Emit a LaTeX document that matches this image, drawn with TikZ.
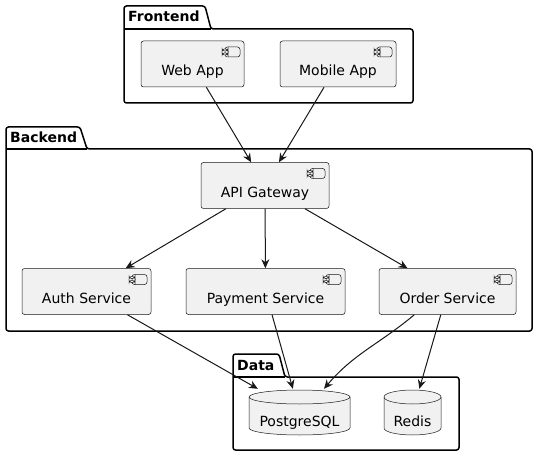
\documentclass[tikz,border=0pt]{standalone}
\usepackage{fontspec}
\setmainfont{DejaVu Sans}
\usepackage{xcolor}
\usetikzlibrary{arrows.meta,positioning}

\definecolor{boxfill}{HTML}{F1F1F1}
\definecolor{boxline}{HTML}{181818}

\begin{document}
\begin{tikzpicture}[
  x=1pt, y=1pt,
  comp/.style={draw=boxline, fill=boxfill, line width=0.5pt, rounded corners=2.5pt,
    minimum height=46pt, text height=23pt, text depth=0pt, font=\fontsize{14}{16}\selectfont,
    path picture={
      % little component icon in the top right corner
      \draw[boxline, line width=0.5pt, fill=boxfill]
        ([shift={(-19pt,-6pt)}]path picture bounding box.north east) rectangle ++(15pt,-10pt);
      \draw[boxline, line width=0.5pt, fill=boxfill]
        ([shift={(-22pt,-8pt)}]path picture bounding box.north east) rectangle ++(6pt,-2pt);
      \draw[boxline, line width=0.5pt, fill=boxfill]
        ([shift={(-22pt,-12pt)}]path picture bounding box.north east) rectangle ++(6pt,-2pt);
    }},
  % database: cylinder drawn inside a plain box, #1 = cylinder width
  db/.style={minimum width=#1+2pt, minimum height=47pt, text height=27pt, text depth=0pt,
    font=\fontsize{14}{16}\selectfont,
    path picture={
      \draw[boxline, line width=0.5pt, fill=boxfill]
        ([shift={(-0.5*#1,-8pt)}]path picture bounding box.north)
        -- ([shift={(-0.5*#1,8pt)}]path picture bounding box.south)
        arc[start angle=180, end angle=360, x radius=0.5*#1, y radius=7pt]
        -- ([shift={(0.5*#1,-8pt)}]path picture bounding box.north)
        arc[start angle=0, end angle=180, x radius=0.5*#1, y radius=7pt] -- cycle;
      \draw[boxline, line width=0.5pt]
        ([shift={(-0.5*#1,-8pt)}]path picture bounding box.north)
        arc[start angle=180, end angle=360, x radius=0.5*#1, y radius=7pt];
    }},
  pkg/.style={draw=black, line width=1.5pt, rounded corners=2.5pt, fill=white},
  pkgtitle/.style={anchor=base west, font=\bfseries\fontsize{14}{16}\selectfont, inner sep=0pt},
  flow/.style={-{Stealth[length=9pt, width=8pt, inset=3pt]}, line width=1pt, draw=boxline},
]
\useasboundingbox (0,0) rectangle (546,-465);

% Frontend package
\draw[pkg] (124,-103) -- (124,-6) -- (205,-6) -- (211,-29) -- (413,-29) -- (413,-103) -- cycle;
\draw[line width=1.5pt] (124,-29) -- (211,-29);
\node[pkgtitle] (fronttitle) at (128,-22) {Frontend};

% Backend package
\draw[pkg] (6,-331) -- (6,-127) -- (80,-127) -- (87,-149) -- (532,-149) -- (532,-331) -- cycle;
\draw[line width=1.5pt] (6,-149) -- (87,-149);
\node[pkgtitle] (backtitle) at (10,-143) {Backend};

% Data package
\draw[pkg] (233,-450) -- (233,-354) -- (279,-354) -- (285,-377) -- (459,-377) -- (459,-450) -- cycle;
\draw[line width=1.5pt] (233,-377) -- (285,-377);
\node[pkgtitle] (datatitle) at (237,-370) {Data};

% components
\node[comp, minimum width=103pt] (web) at (192.5,-64) {Web App};
\node[comp, minimum width=116pt] (mobile) at (338,-64) {Mobile App};
\node[comp, minimum width=128pt] (api) at (265,-185.5) {API Gateway};
\node[comp, minimum width=129pt] (auth) at (86.5,-291.5) {Auth Service};
\node[comp, minimum width=159pt] (pay) at (265.5,-291.5) {Payment Service};
\node[comp, minimum width=137pt] (order) at (447.5,-291.5) {Order Service};

% databases
\node[db=101pt] (pg) at (299.5,-412.5) {PostgreSQL};
\node[db=57pt] (redis) at (412.5,-412.5) {Redis};

\draw[flow] (web) -- (api);
\draw[flow] (mobile) -- (api);
\draw[flow] (api) -- (auth);
\draw[flow] (api) -- (pay);
\draw[flow] (api) -- (order);
\draw[flow] (auth) -- (pg);
\draw[flow] (pay) -- (pg);
\draw[flow] (order.-145) to[out=-140, in=50] (pg.44);
\draw[flow] (order) -- (redis);

\end{tikzpicture}
\end{document}
